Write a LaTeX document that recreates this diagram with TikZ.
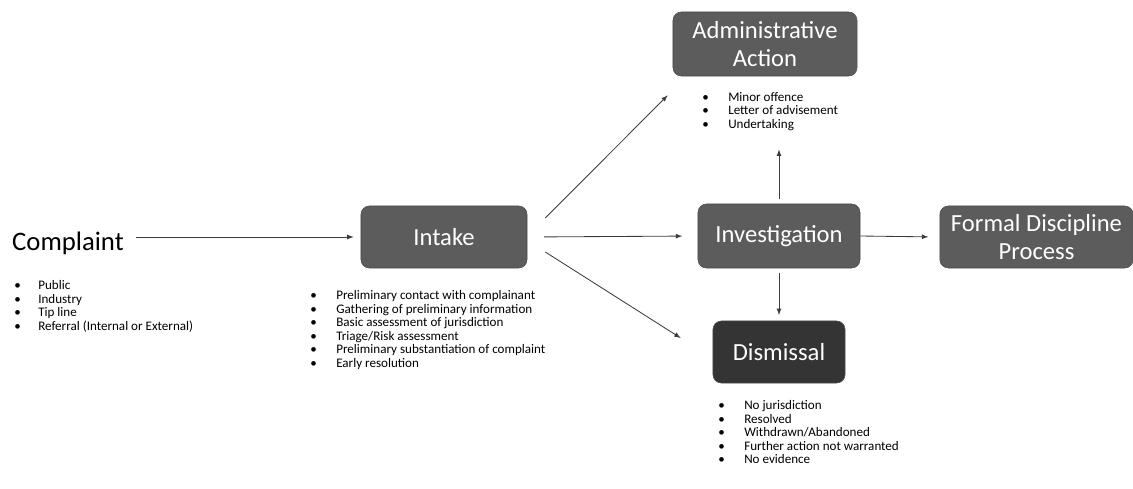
\documentclass[tikz,border=0pt]{standalone}
\usepackage{fontspec}
\setmainfont{Carlito}
\usepackage{tikz}
\usetikzlibrary{calc, arrows, shapes}
\tikzset{>=latex}
\definecolor{boxgray}{RGB}{92, 92, 92}
\definecolor{boxdark}{RGB}{52, 52, 52}
\definecolor{flowgray}{RGB}{60, 60, 60}
\newcommand{\itm}[2][0.65cm]{\makebox[#1][l]{\textbullet}#2}
\tikzset{stage/.style = {draw = black!70, fill = boxgray, rounded corners = 6pt, text = white, align = center, inner sep = 0pt, font = \fontsize{17.5}{20}\selectfont},
items/.style = {anchor = north west, align = left, inner sep = 0pt, font = \fontsize{9.3}{9.7}\selectfont},
flow/.style = {->, flowgray, line width = 0.6pt}}

\begin{document}
\begin{tikzpicture}[x = 0.025cm, y = -0.025cm]
\useasboundingbox (0, 0) rectangle (1133, 488);
% stages
\node[font = \fontsize{19}{22}\selectfont] (complaint) at (68, 243) {Complaint};
\node[stage, minimum width = 4.15cm, minimum height = 1.55cm] (intake) at (444, 237) {Intake};
\node[stage, minimum width = 4.6cm, minimum height = 1.6cm] (admin) at (765, 44) {Administrative\\Action};
\node[stage, minimum width = 4.05cm, minimum height = 1.6cm] (investigation) at (779, 236) {Investigation};
\node[stage, minimum width = 4.83cm, minimum height = 1.55cm] (formal) at (1036.5, 237) {Formal Discipline\\Process};
\node[stage, fill = boxdark, minimum width = 3.3cm, minimum height = 1.55cm] (dismissal) at (779, 352) {Dismissal};
% lists
\node[items] (complaintlist) at (14, 280) {\itm[0.6cm]{Public}\\ \itm[0.6cm]{Industry}\\ \itm[0.6cm]{Tip line}\\ \itm[0.6cm]{Referral (Internal or External)}};
\node[items] (intakelist) at (310, 290) {\itm{Preliminary contact with complainant}\\ \itm{Gathering of preliminary information}\\ \itm{Basic assessment of jurisdiction}\\ \itm{Triage/Risk assessment}\\ \itm{Preliminary substantiation of complaint}\\ \itm{Early resolution}};
\node[items] (adminlist) at (702, 92) {\itm{Minor offence}\\ \itm{Letter of advisement}\\ \itm{Undertaking}};
\node[items] (dismissallist) at (718, 400) {\itm{No jurisdiction}\\ \itm{Resolved}\\ \itm{Withdrawn/Abandoned}\\ \itm{Further action not warranted}\\ \itm{No evidence}};
% arrows
\draw[flow, shorten <= 5pt, shorten >= 5pt] (complaint.east |- intake.west) -- (intake.west);
\draw[flow, shorten <= 12pt, shorten >= 11pt] (intake.east) -- (investigation.west);
\draw[flow] ([shift = {(18, -19)}]intake.east) -- ([shift = {(-5, 19)}]admin.south west);
\draw[flow] ([shift = {(18, 15)}]intake.east) -- ([shift = {(-32, -14)}]dismissal.west);
\draw[flow, shorten <= 3pt, shorten >= 13pt] (investigation.north) -- (investigation.north |- adminlist.south);
\draw[flow, shorten <= 3pt, shorten >= 4pt] (investigation.south) -- (dismissal.north);
\draw[flow, shorten >= 8pt] (investigation.east) -- (formal.west);
\end{tikzpicture}
\end{document}
